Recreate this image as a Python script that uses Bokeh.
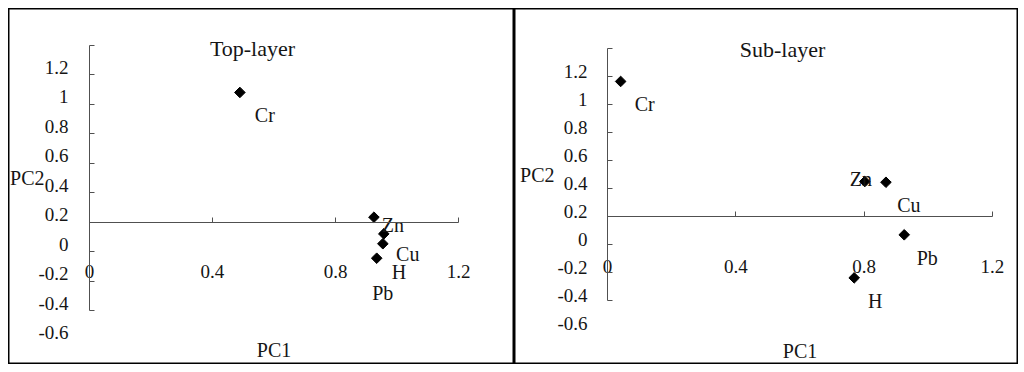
from bokeh.plotting import figure
from bokeh.layouts import row
from bokeh.models import LinearAxis, Range1d, FixedTicker, Label, ColumnDataSource, NumeralTickFormatter
from bokeh.embed import file_html
from bokeh.resources import INLINE
from bokeh.core.properties import value

# ---------------- data ----------------
top_title = "Top-layer"
top_names = ["Cr", "Zn", "Cu", "H", "Pb"]
top_pc1 = [0.489, 0.925, 0.957, 0.954, 0.934]
top_pc2 = [1.079, 0.234, 0.121, 0.054, -0.044]

sub_title = "Sub-layer"
sub_names = ["Cr", "Zn", "Cu", "Pb", "H"]
sub_pc1 = [0.041, 0.802, 0.868, 0.925, 0.769]
sub_pc2 = [1.166, 0.450, 0.445, 0.069, -0.239]

x_ticks = [0, 0.4, 0.8, 1.2]
y_tick_marks = [1.4, 1.2, 1.0, 0.8, 0.6, 0.4, 0.2, 0.0, -0.2, -0.4]
y_tick_labels = [1.2, 1.0, 0.8, 0.6, 0.4, 0.2, 0.0, -0.2, -0.4, -0.6]
x_title = "PC1"
y_title = "PC2"

# label offsets in screen pixels (right, down)
top_label_dx = [25, 19, 24, 16, 6]
top_label_dy = [23, 8, 20, 28, 35]
sub_label_dx = [24, -4, 23, 23, 21]
sub_label_dy = [23, -3, 23, 23, 23]

FONT = "Liberation Serif"
TXT = "#151515"
AXC = "#505050"


def panel(title, names, xs, ys, dx, dy, w, h, xr, yr, label_shift, title_xy,
          ylab_standoff, pc2_standoff, xlab_standoff, pc1_standoff):
    p = figure(width=w, height=h, x_range=Range1d(*xr), y_range=Range1d(*yr),
               x_axis_type=None, y_axis_type=None, toolbar_location=None,
               output_backend="svg", min_border=0)
    p.outline_line_color = "black"
    p.outline_line_width = 2
    p.background_fill_color = "white"
    p.border_fill_color = "white"
    p.extra_y_ranges = {"lab": Range1d(yr[0] - label_shift, yr[1] - label_shift)}

    # y axis: line + tick marks (drawn as unlabeled minor ticks)
    ya = LinearAxis(fixed_location=0,
                    ticker=FixedTicker(ticks=[], minor_ticks=y_tick_marks),
                    bounds=(min(y_tick_marks), max(y_tick_marks)))
    ya.axis_line_color = AXC
    ya.minor_tick_line_color = AXC
    ya.minor_tick_in = 5
    ya.minor_tick_out = 0
    ya.major_tick_line_color = None
    ya.major_tick_in = 0
    ya.major_tick_out = 0
    ya.major_label_standoff = 0
    ya.axis_label = y_title
    ya.axis_label_orientation = "horizontal"
    ya.axis_label_text_font = FONT
    ya.axis_label_text_font_size = "20px"
    ya.axis_label_text_font_style = "normal"
    ya.axis_label_text_color = TXT
    ya.axis_label_standoff = pc2_standoff
    p.add_layout(ya, "left")

    # y axis: tick labels
    yb = LinearAxis(fixed_location=0, y_range_name="lab",
                    ticker=FixedTicker(ticks=y_tick_labels),
                    formatter=NumeralTickFormatter(format="0.[0]"))
    yb.axis_line_color = None
    yb.major_tick_line_color = None
    yb.minor_tick_line_color = None
    yb.major_tick_in = 0
    yb.major_tick_out = 0
    yb.major_label_standoff = ylab_standoff
    yb.major_label_text_font = FONT
    yb.major_label_text_font_size = "19px"
    yb.major_label_text_color = TXT
    p.add_layout(yb, "left")

    # x axis
    xa = LinearAxis(fixed_location=0.2, ticker=FixedTicker(ticks=x_ticks),
                    bounds=(min(x_ticks), max(x_ticks)),
                    formatter=NumeralTickFormatter(format="0.[0]"))
    xa.axis_line_color = AXC
    xa.major_tick_line_color = AXC
    xa.major_tick_in = 5
    xa.major_tick_out = 0
    xa.minor_tick_line_color = None
    xa.major_label_standoff = xlab_standoff
    xa.major_label_text_font = FONT
    xa.major_label_text_font_size = "19px"
    xa.major_label_text_color = TXT
    xa.axis_label = x_title
    xa.axis_label_text_font = FONT
    xa.axis_label_text_font_size = "20px"
    xa.axis_label_text_font_style = "normal"
    xa.axis_label_text_color = TXT
    xa.axis_label_standoff = pc1_standoff
    p.add_layout(xa, "below")

    src = ColumnDataSource(dict(x=xs, y=ys, name=names, dx=dx, dy=dy))
    p.scatter("x", "y", source=src, marker="square", size=7.5, angle=0.785,
              fill_color="black", line_color="black")
    p.text("x", "y", text="name", source=src, x_offset="dx", y_offset="dy",
           text_align="center", text_baseline="middle",
           text_font=value(FONT), text_font_size="20px", text_color=TXT)

    p.add_layout(Label(x=title_xy[0], y=title_xy[1], text=title,
                       text_align="center", text_baseline="middle",
                       text_font=FONT, text_font_size="22px", text_color=TXT))
    return p


left = panel(top_title, top_names, top_pc1, top_pc2, top_label_dx, top_label_dy,
             506, 356, (-0.2634, 1.3821), (-0.7641, 1.6478), 0.05, (0.530, 1.377),
             21, 45, 43, 57)
right = panel(sub_title, sub_names, sub_pc1, sub_pc2, sub_label_dx, sub_label_dy,
              504, 356, (-0.2899, 1.2812), (-0.8587, 1.6878), 0.035, (0.5455, 1.3946),
              20, 53, 44, 63)

layout = row(left, right, spacing=0, margin=(8, 0, 0, 8))
open("out.html", "w").write(file_html(layout, INLINE))
